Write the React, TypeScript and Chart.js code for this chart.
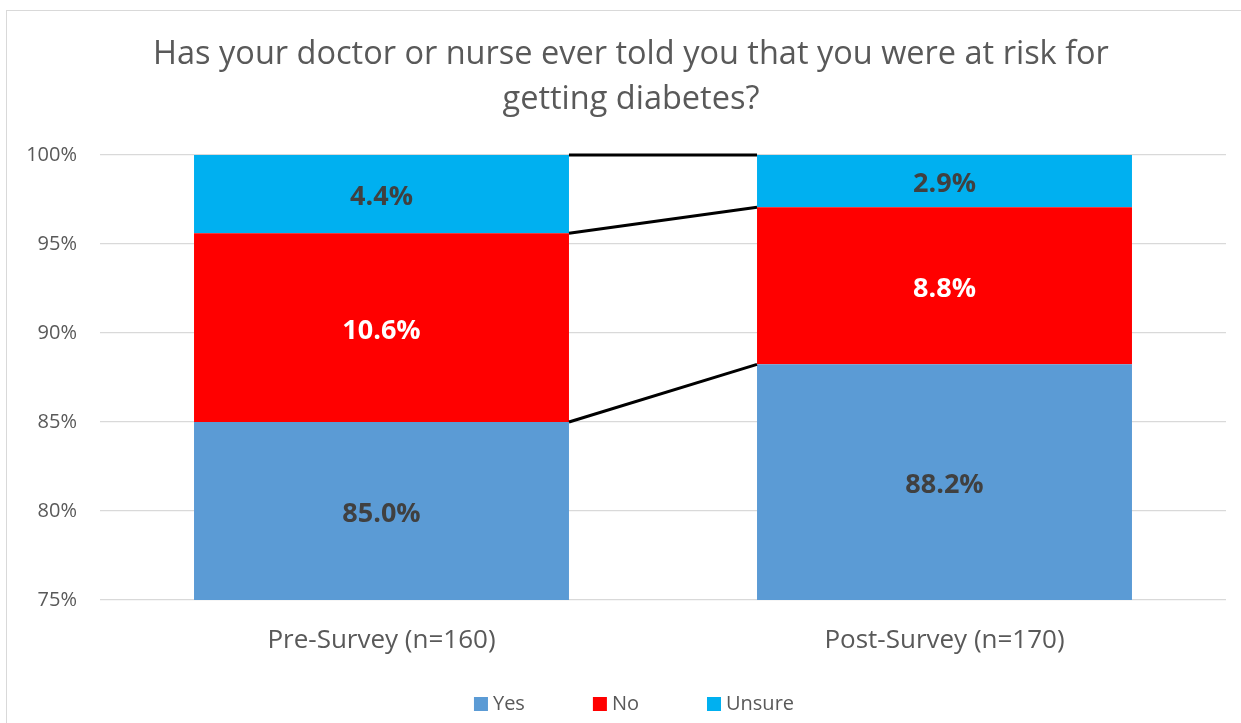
import React, { useEffect, useRef } from "react";
import { Chart, registerables } from "chart.js";

Chart.register(...registerables);

const TITLE_LINES = [
  "Has your doctor or nurse ever told you that you were at risk for",
  "getting diabetes?",
];
const CATEGORIES = ["Pre-Survey (n=160)", "Post-Survey (n=170)"];
const SERIES_NAMES = ["Yes", "No", "Unsure"];
const YES_VALUES = [85.0, 88.24];
const NO_VALUES = [10.6, 8.82];
const UNSURE_VALUES = [4.4, 2.94];
const SERIES_COLORS = ["#5B9BD5", "#FF0000", "#00B0F0"];
const LABEL_COLORS = ["#404040", "#FFFFFF", "#404040"];
const Y_MIN = 75;
const Y_MAX = 100;
const Y_STEP = 5;

const FONT = "'Open Sans', 'Noto Sans', sans-serif";
const TEXT_GRAY = "#595959";

const titlePlugin = {
  id: "customTitle",
  afterDraw(chart: any) {
    const ctx = chart.ctx;
    ctx.save();
    ctx.font = `32.5px ${FONT}`;
    ctx.fillStyle = TEXT_GRAY;
    ctx.textAlign = "center";
    ctx.textBaseline = "middle";
    TITLE_LINES.forEach((line, i) => {
      ctx.fillText(line, 631, 55 + i * 45);
    });
    ctx.restore();
  },
};

const seriesLinesPlugin = {
  id: "seriesLines",
  afterDatasetsDraw(chart: any) {
    const ctx = chart.ctx;
    ctx.save();
    ctx.strokeStyle = "#000000";
    ctx.lineWidth = 3;
    chart.data.datasets.forEach((_ds: any, i: number) => {
      const meta = chart.getDatasetMeta(i);
      for (let j = 0; j < meta.data.length - 1; j++) {
        const a = meta.data[j].getProps(["x", "y", "width"], true);
        const b = meta.data[j + 1].getProps(["x", "y", "width"], true);
        ctx.beginPath();
        ctx.moveTo(a.x + a.width / 2, a.y);
        ctx.lineTo(b.x - b.width / 2, b.y);
        ctx.stroke();
      }
    });
    ctx.restore();
  },
};

const dataLabelsPlugin = {
  id: "dataLabelsCustom",
  afterDatasetsDraw(chart: any) {
    const ctx = chart.ctx;
    const area = chart.chartArea;
    ctx.save();
    ctx.font = `bold 27px ${FONT}`;
    ctx.textAlign = "center";
    ctx.textBaseline = "middle";
    chart.data.datasets.forEach((ds: any, i: number) => {
      const meta = chart.getDatasetMeta(i);
      meta.data.forEach((el: any, j: number) => {
        const p = el.getProps(["x", "y", "base"], true);
        const top = Math.max(Math.min(p.y, p.base), area.top);
        const bottom = Math.min(Math.max(p.y, p.base), area.bottom);
        ctx.fillStyle = LABEL_COLORS[i];
        ctx.fillText(ds.data[j].toFixed(1) + "%", p.x, (top + bottom) / 2 + 3.5);
      });
    });
    ctx.restore();
  },
};

const legendPlugin = {
  id: "customLegend",
  afterDraw(chart: any) {
    const ctx = chart.ctx;
    ctx.save();
    ctx.font = `20px ${FONT}`;
    ctx.textBaseline = "middle";
    ctx.textAlign = "left";
    const box = 14;
    const gapText = 5;
    const gapItem = 68;
    const widths = SERIES_NAMES.map((n) => box + gapText + ctx.measureText(n).width);
    const total = widths.reduce((s, w) => s + w, 0) + gapItem * (widths.length - 1);
    let x = 634 - total / 2;
    const cy = 704;
    SERIES_NAMES.forEach((n, i) => {
      ctx.fillStyle = SERIES_COLORS[i];
      ctx.fillRect(x, cy - box / 2, box, box);
      ctx.fillStyle = TEXT_GRAY;
      ctx.fillText(n, x + box + gapText, cy);
      x += widths[i] + gapItem;
    });
    ctx.restore();
  },
};

export default function App() {
  const canvasRef = useRef<HTMLCanvasElement | null>(null);

  useEffect(() => {
    if (!canvasRef.current) return;
    const values = [YES_VALUES, NO_VALUES, UNSURE_VALUES];
    const chart = new Chart(canvasRef.current, {
      type: "bar",
      data: {
        labels: CATEGORIES,
        datasets: SERIES_NAMES.map((name, i) => ({
          label: name,
          data: values[i],
          backgroundColor: SERIES_COLORS[i],
          borderWidth: 0,
          barPercentage: 0.666,
          categoryPercentage: 1,
        })),
      },
      options: {
        animation: false,
        responsive: true,
        maintainAspectRatio: false,
        layout: { padding: { left: 0, right: 15, top: 155, bottom: 0 } },
        plugins: {
          legend: { display: false },
          tooltip: { enabled: false },
          title: { display: false },
        },
        scales: {
          x: {
            stacked: true,
            grid: { display: false },
            border: { display: false },
            ticks: {
              color: TEXT_GRAY,
              font: { family: FONT, size: 26 },
              padding: 17,
            },
            afterFit: (scale: any) => {
              scale.height = 123;
            },
          },
          y: {
            stacked: true,
            min: Y_MIN,
            max: Y_MAX,
            grid: { color: "#D9D9D9", lineWidth: 1.3, drawTicks: false },
            border: { display: false },
            ticks: {
              stepSize: Y_STEP,
              color: TEXT_GRAY,
              font: { family: FONT, size: 20 },
              padding: 23,
              callback: (v: any) => `${v}%`,
            },
            afterFit: (scale: any) => {
              scale.width = 100;
            },
          },
        },
      },
      plugins: [seriesLinesPlugin, dataLabelsPlugin, titlePlugin, legendPlugin],
    });
    return () => chart.destroy();
  }, []);

  return (
    <div
      style={{
        position: "fixed",
        left: 0,
        top: 0,
        width: 1241,
        height: 723,
        background: "#FFFFFF",
      }}
    >
      <div
        style={{
          position: "absolute",
          left: 6,
          top: 10,
          width: 1300,
          height: 800,
          borderLeft: "1.5px solid #D9D9D9",
          borderTop: "1.5px solid #D9D9D9",
          pointerEvents: "none",
        }}
      />
      <canvas ref={canvasRef} style={{ position: "relative" }} />
    </div>
  );
}
